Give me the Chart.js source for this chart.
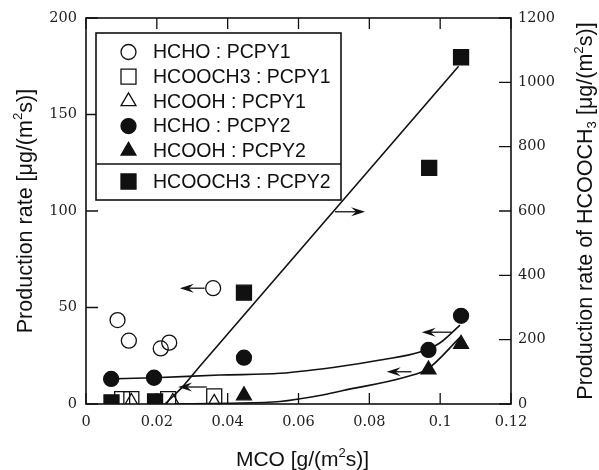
<!DOCTYPE html>
<html>
<head>
<meta charset="utf-8">
<script src="https://cdn.jsdelivr.net/npm/chart.js@4.4.1/dist/chart.umd.min.js"></script>
<style>
  html, body { margin: 0; padding: 0; background: #fff; }
</style>
</head>
<body>
<canvas id="mcoChart" width="599" height="470"></canvas>
<script>
// MCO [g/(m2 s)] against production rate, two catalysts (PCPY1 / PCPY2)
const hchoP1X = [0.0089, 0.0121, 0.0211, 0.0235, 0.0359];
const hchoP1Y = [43.5, 32.8, 28.8, 31.8, 60];
const formP1X = [0.0102, 0.0128, 0.0232, 0.0362];
const formP1Y = [2.5, 2.5, 2.5, 4];
const acidP1X = [0.0128, 0.0245, 0.0362];
const acidP1Y = [1, 1, 0.5];
const hchoP2X = [0.0071, 0.0192, 0.0446, 0.0967, 0.1059];
const hchoP2Y = [13, 13.6, 24, 28, 45.7];
const acidP2X = [0.0446, 0.0967, 0.1059];
const acidP2Y = [4.4, 17.8, 31.1];
// HCOOCH3 on PCPY2 goes on the right-hand axis
const formP2X = [0.0072, 0.0195, 0.0446, 0.0969, 0.1059];
const formP2Y = [5, 8, 346, 734, 1078];

// hand-drawn trend curves
const hchoFitX = [0.0071, 0.0192, 0.0378, 0.0548, 0.0726, 0.0831, 0.0943, 0.0999, 0.1056];
const hchoFitY = [13, 13.6, 15, 15.9, 19.7, 22.8, 26.9, 31.6, 40.9];
const acidFitX = [0.025, 0.04, 0.0548, 0.066, 0.0726, 0.0905, 0.0967, 0.1056];
const acidFitY = [0, 0.4, 1.3, 4.4, 7, 14.1, 18.5, 34.5];
const formFitX = [0.0223, 0.027, 0.0322, 0.1052];
const formFitY = [0, 50, 118, 1050];

// arrows telling which axis a curve belongs to (left-axis units)
const arrowFromX = [0.0335, 0.0341, 0.0703, 0.1032, 0.0919];
const arrowToX = [0.0265, 0.0260, 0.0788, 0.0948, 0.0849];
const arrowY = [60, 8.8, 99.6, 37.2, 16.7];

const legendLabels = ['HCHO : PCPY1', 'HCOOCH3 : PCPY1', 'HCOOH : PCPY1',
  'HCHO : PCPY2', 'HCOOH : PCPY2', 'HCOOCH3 : PCPY2'];

const xTicks = [0, 0.02, 0.04, 0.06, 0.08, 0.1, 0.12];

const INK = '#111';
const SANS = '"Liberation Sans", Arial, sans-serif';
const SERIF = '"DejaVu Serif", serif';

const pts = (xs, ys) => xs.map((x, i) => ({ x: x, y: ys[i] }));

function marker(label, xs, ys, style, radius, filled, axis) {
  return {
    label: label,
    data: pts(xs, ys),
    yAxisID: axis || 'y',
    pointStyle: style,
    pointRadius: radius,
    pointHoverRadius: radius,
    borderWidth: 1.3,
    borderColor: INK,
    backgroundColor: filled ? INK : 'rgba(0,0,0,0)',
    showLine: false
  };
}

function curve(xs, ys, axis, mono) {
  return {
    label: '',
    data: pts(xs, ys),
    yAxisID: axis,
    showLine: true,
    pointRadius: 0,
    borderColor: INK,
    borderWidth: 1.6,
    tension: 0,
    cubicInterpolationMode: mono ? 'monotone' : 'default',
    fill: false
  };
}

const datasets = [
  marker(legendLabels[0], hchoP1X, hchoP1Y, 'circle', 7.5, false),
  marker(legendLabels[1], formP1X, formP1Y, 'rect', 10.6, false),
  marker(legendLabels[2], acidP1X, acidP1Y, 'triangle', 8.6, false),
  marker(legendLabels[3], hchoP2X, hchoP2Y, 'circle', 7.5, true),
  marker(legendLabels[4], acidP2X, acidP2Y, 'triangle', 8.6, true),
  marker(legendLabels[5], formP2X, formP2Y, 'rect', 10.6, true, 'y2'),
  curve(hchoFitX, hchoFitY, 'y', true),
  curve(acidFitX, acidFitY, 'y', true),
  curve(formFitX, formFitY, 'y2', false)
];

function shape(ctx, style, r, x, y) {
  ctx.beginPath();
  if (style === 'circle') {
    ctx.arc(x, y, r, 0, Math.PI * 2);
  } else if (style === 'rect') {
    const s = r * Math.SQRT1_2;
    ctx.rect(x - s, y - s, 2 * s, 2 * s);
  } else {
    ctx.moveTo(x, y - r);
    ctx.lineTo(x + r * Math.sin(Math.PI * 2 / 3), y - r * Math.cos(Math.PI * 2 / 3));
    ctx.lineTo(x + r * Math.sin(Math.PI * 4 / 3), y - r * Math.cos(Math.PI * 4 / 3));
    ctx.closePath();
  }
}

// text with super/subscripts, drawn along the baseline at (bx, by)
function richText(ctx, parts, size, bx, by, rot) {
  ctx.save();
  ctx.translate(bx, by);
  ctx.rotate(rot);
  ctx.fillStyle = INK;
  ctx.textBaseline = 'alphabetic';
  ctx.textAlign = 'left';
  const fontOf = p => (p.sup || p.sub ? size * 0.62 : size) + 'px ' + SANS;
  let total = 0;
  parts.forEach(p => { ctx.font = fontOf(p); total += ctx.measureText(p.t).width; });
  let x = -total / 2;
  parts.forEach(p => {
    ctx.font = fontOf(p);
    const dy = p.sup ? -size * 0.42 : (p.sub ? size * 0.2 : 0);
    ctx.fillText(p.t, x, dy);
    x += ctx.measureText(p.t).width;
  });
  ctx.restore();
}

const framePlugin = {
  id: 'frame',
  afterDraw(chart) {
    const ctx = chart.ctx;
    const a = chart.chartArea;
    const sx = chart.scales.x, sy = chart.scales.y, sy2 = chart.scales.y2;
    ctx.save();
    ctx.strokeStyle = INK;
    ctx.lineWidth = 1.6;
    ctx.strokeRect(a.left, a.top, a.right - a.left, a.bottom - a.top);
    // inward tick marks on all four sides
    ctx.lineWidth = 1.3;
    ctx.beginPath();
    const tl = 11;
    sx.ticks.forEach(t => {
      const px = sx.getPixelForValue(t.value);
      ctx.moveTo(px, a.bottom); ctx.lineTo(px, a.bottom - tl);
      ctx.moveTo(px, a.top); ctx.lineTo(px, a.top + tl);
    });
    sy.ticks.forEach(t => {
      const py = sy.getPixelForValue(t.value);
      ctx.moveTo(a.left, py); ctx.lineTo(a.left + 12, py);
    });
    sy2.ticks.forEach(t => {
      const py = sy2.getPixelForValue(t.value);
      ctx.moveTo(a.right, py); ctx.lineTo(a.right - 12, py);
    });
    ctx.stroke();

    // arrows
    ctx.fillStyle = INK;
    ctx.lineWidth = 1.3;
    arrowY.forEach((v, i) => {
      const y = sy.getPixelForValue(v);
      const x0 = sx.getPixelForValue(arrowFromX[i]);
      const x1 = sx.getPixelForValue(arrowToX[i]);
      const d = x1 > x0 ? 1 : -1;
      ctx.beginPath();
      ctx.moveTo(x0, y); ctx.lineTo(x1 - d * 6, y);
      ctx.stroke();
      ctx.beginPath();
      ctx.moveTo(x1, y);
      ctx.lineTo(x1 - d * 14, y - 4.5);
      ctx.lineTo(x1 - d * 9, y);
      ctx.lineTo(x1 - d * 14, y + 4.5);
      ctx.closePath();
      ctx.fill();
    });

    // legend box
    const lx = a.left + 10, ly = a.top + 15, lw = 245, lh = 167;
    ctx.fillStyle = '#fff';
    ctx.fillRect(lx, ly, lw, lh);
    ctx.lineWidth = 1.6;
    ctx.strokeRect(lx, ly, lw, lh);
    ctx.beginPath();
    ctx.moveTo(lx, ly + 131); ctx.lineTo(lx + lw, ly + 131);
    ctx.stroke();
    ctx.font = '19.5px ' + SANS;
    ctx.textBaseline = 'middle';
    ctx.textAlign = 'left';
    for (let i = 0; i < 6; i++) {
      const ds = chart.data.datasets[i];
      const cy = i < 5 ? ly + 19 + i * 24.7 : ly + 148.5;
      ctx.fillStyle = ds.backgroundColor;
      ctx.strokeStyle = INK;
      ctx.lineWidth = 1.3;
      shape(ctx, ds.pointStyle, ds.pointRadius, lx + 32.5, cy);
      ctx.fill();
      ctx.stroke();
      ctx.fillStyle = INK;
      ctx.fillText(ds.label, lx + 57, cy + 1);
    }

    // axis titles
    const mid = (a.top + a.bottom) / 2;
    richText(ctx, [{ t: 'MCO [g/(m' }, { t: '2', sup: true }, { t: 's)]' }],
      21, (a.left + a.right) / 2 + 4, 466, 0);
    richText(ctx, [{ t: 'Production rate [μg/(m' }, { t: '2', sup: true }, { t: 's)]' }],
      21.5, 31.5, mid, -Math.PI / 2);
    richText(ctx, [{ t: 'Production rate of HCOOCH' }, { t: '3', sub: true },
      { t: ' [μg/(m' }, { t: '2', sup: true }, { t: 's)]' }],
      21.5, 592, mid, -Math.PI / 2);
    ctx.restore();
  }
};

const tickFont = { family: SERIF, size: 14.5 };

new Chart(document.getElementById('mcoChart'), {
  type: 'scatter',
  data: { datasets: datasets },
  options: {
    responsive: false,
    animation: false,
    devicePixelRatio: 1,
    layout: { padding: { top: 18, left: 0, right: 0, bottom: 0 } },
    plugins: { legend: { display: false }, tooltip: { enabled: false } },
    scales: {
      x: {
        type: 'linear', min: 0, max: 0.12,
        afterBuildTicks: s => { s.ticks = xTicks.map(v => ({ value: v })); },
        afterFit: s => { s.height = 66; },
        grid: { drawOnChartArea: false, drawTicks: false },
        border: { display: false },
        ticks: { font: tickFont, color: '#222', padding: 10,
          callback: v => String(+v.toFixed(2)) }
      },
      y: {
        position: 'left', min: 0, max: 200,
        afterFit: s => { s.width = 86; },
        grid: { drawOnChartArea: false, drawTicks: false },
        border: { display: false },
        ticks: { stepSize: 50, font: tickFont, color: '#222', padding: 9,
          callback: v => String(v) }
      },
      y2: {
        position: 'right', min: 0, max: 1200,
        afterFit: s => { s.width = 88; },
        grid: { drawOnChartArea: false, drawTicks: false },
        border: { display: false },
        ticks: { stepSize: 200, font: tickFont, color: '#222', padding: 7,
          callback: v => String(v) }
      }
    }
  },
  plugins: [framePlugin]
});
</script>
</body>
</html>
